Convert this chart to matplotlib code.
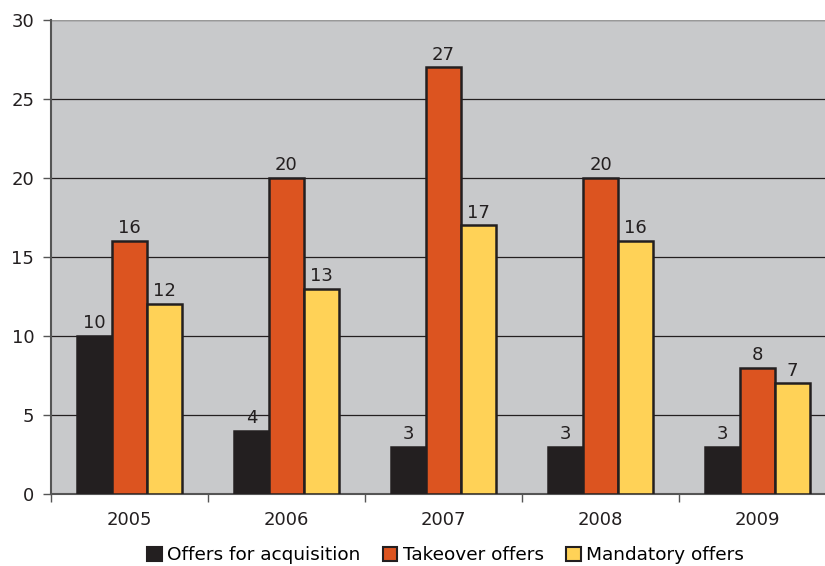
import numpy as np
import matplotlib.pyplot as plt
from matplotlib.patches import Patch

years = ["2005", "2006", "2007", "2008", "2009"]
acquisition = [10, 4, 3, 3, 3]
takeover = [16, 20, 27, 20, 8]
mandatory = [12, 13, 17, 16, 7]

series = [
    ("Offers for acquisition", acquisition, "#231f20"),
    ("Takeover offers", takeover, "#dc5420"),
    ("Mandatory offers", mandatory, "#ffd257"),
]

W, H = 825, 566
fig = plt.figure(figsize=(W / 100, H / 100), dpi=100)
left, right, top, bottom = 51, 836, 20, 494
ax = fig.add_axes([left / W, 1 - bottom / H, (right - left) / W, (bottom - top) / H])
ax.set_facecolor("#c8c9cb")

x = np.arange(len(years))
bw = 0.223
for i, (name, vals, col) in enumerate(series):
    pos = x + (i - 1) * bw
    ec = col if i == 0 else "#231f20"
    ax.bar(pos, vals, bw, color=col, edgecolor=ec, linewidth=1.8, zorder=3)
    for p, v in zip(pos, vals):
        ax.text(p, v + 0.5, str(v), ha="center", va="baseline", fontsize=13,
                color="#231f20", zorder=4)

ax.set_xlim(-0.5, len(years) - 0.5)
ax.set_ylim(0, 30)
ax.set_yticks(range(0, 31, 5))
ax.yaxis.grid(True, color="#231f20", linewidth=0.9, zorder=1)
ax.set_axisbelow(True)
ax.set_xticks(x)
ax.set_xticklabels(years)
ax.set_xticks(np.arange(-0.5, len(years), 1), minor=True)
ax.tick_params(axis="x", which="major", length=0, pad=12, labelsize=13, colors="#231f20")
ax.tick_params(axis="x", which="minor", length=6, width=1, color="#555555")
ax.tick_params(axis="y", length=6, width=1, color="#555555", labelsize=13, pad=6,
               labelcolor="#231f20")
for s in ["top", "right"]:
    ax.spines[s].set_visible(False)
ax.spines["left"].set_color("#555555")
ax.spines["left"].set_linewidth(1.5)
ax.spines["bottom"].set_color("#555555")
ax.spines["bottom"].set_linewidth(1.5)
ax.axhline(30, color="#999999", linewidth=1.5, zorder=2)

handles = [Patch(facecolor=c, edgecolor="#231f20", linewidth=1.5, label=n) for n, _, c in series]
fig.legend(handles=handles, loc="center", bbox_to_anchor=(0.54, 1 - 555 / H), ncol=3,
           frameon=False, fontsize=13.3, handlelength=0.8, handleheight=0.8,
           handletextpad=0.3, columnspacing=1.2)

fig.savefig("out.png", dpi=100)
